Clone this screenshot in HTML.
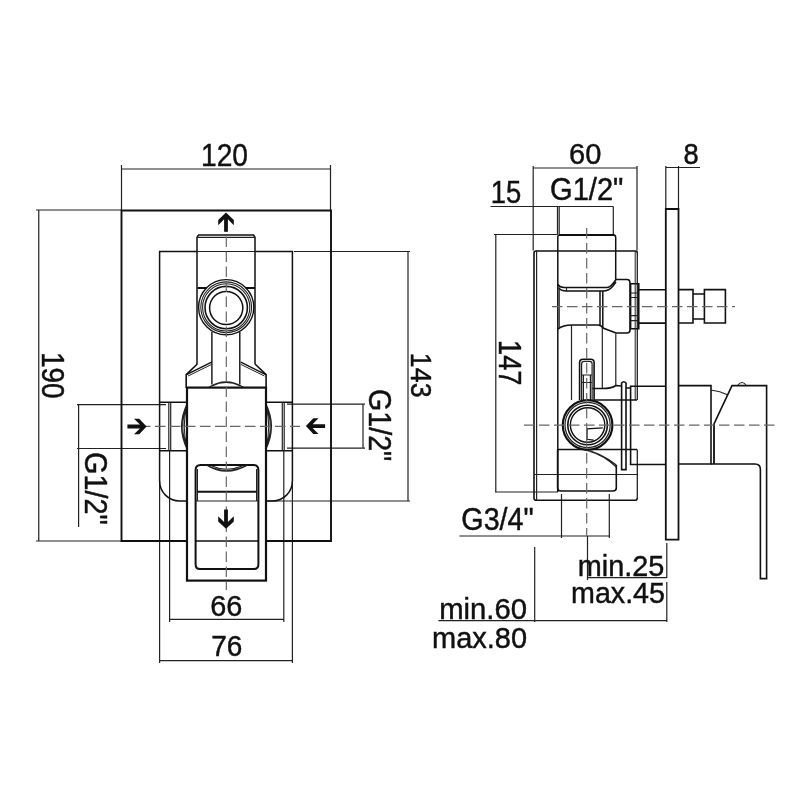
<!DOCTYPE html>
<html><head><meta charset="utf-8">
<style>
html,body{margin:0;padding:0;background:#fff;}
svg{display:block;will-change:transform;}
text{font-family:"Liberation Sans",sans-serif;fill:#111;stroke:#111;stroke-width:0.45;-webkit-font-smoothing:antialiased;}
.o{fill:none;stroke:#111;stroke-width:1.6;}
.t{fill:none;stroke:#222;stroke-width:1.2;}
.d{fill:none;stroke:#222;stroke-width:1.2;}
.c{fill:none;stroke:#666;stroke-width:1.2;stroke-dasharray:10.5 4.5;}
.ar{fill:#111;stroke:none;}
</style></head>
<body>
<svg width="800" height="800" viewBox="0 0 800 800">
<rect width="800" height="800" fill="#fff"/>

<!-- ============ LEFT DRAWING ============ -->
<!-- dimension 120 -->
<path class="d" d="M121.5 165 V210 M330.5 165 V210 M121.5 169 H330.5"/>
<!-- dimension 190 -->
<path class="d" d="M36 210 H121.5 M38.75 210 V541 M36 541 H121.5"/>
<!-- dimension 143 -->
<path class="d" d="M294 251.5 H410 M408 251.5 V501 M267 501 H410"/>
<!-- G1/2 left -->
<path class="d" d="M77 404.6 H166 M77 448.5 H166 M78.6 404.6 V527"/>
<!-- G1/2 right -->
<path class="d" d="M287 404.2 H365 M287 448.1 H365 M363 404.2 V448.1"/>
<!-- dimension 66 -->
<path class="d" d="M169.6 450 V622 M283.8 450 V622 M169.4 619.4 H284.4"/>
<!-- dimension 76 -->
<path class="d" d="M159.6 481 V663 M292.4 481 V663 M159.6 660.6 H292.4"/>

<!-- frame -->
<path class="o" d="M121.5 210.5 H331 V541 H121.5 Z" style="stroke-width:1.9"/>
<!-- inner plate -->
<path class="o" d="M159.6 251.5 H292.4 V481 A20 20 0 0 1 272.4 501 H179.6 A20 20 0 0 1 159.6 481 Z" style="stroke-width:1.5"/>

<!-- top pipe -->
<rect x="197.5" y="236" width="57.5" height="128" fill="#fff" stroke="none"/>
<path class="o" d="M197 364 V237.3 L198.6 235 H253.5 L255 237.3 V364" style="stroke-width:1.5"/><path class="t" d="M197 237.3 H255"/>
<path class="t" d="M197.5 251.5 H255"/>
<path class="o" d="M197.5 288 H207 M245.5 288 H255" style="stroke-width:2"/>
<circle cx="226.2" cy="307.2" r="27.6" class="o" fill="#fff" style="stroke-width:1.4"/>
<circle cx="226.2" cy="307.3" r="25.4" class="t" style="stroke-width:1.1"/>
<circle cx="226.2" cy="307.4" r="23.6" class="t" style="stroke-width:1.1"/>
<circle cx="226.2" cy="307.6" r="21.2" class="o" style="stroke-width:1.6"/>
<circle cx="226.2" cy="308" r="16.6" class="o" style="stroke-width:1.5"/>
<!-- neck -->
<path class="o" d="M211.9 332 V384.5 M239.8 332 V384.5" style="stroke-width:1.4"/>
<!-- shoulders -->
<path class="o" d="M197.3 364 L186.2 374.6 V388 M255 364 L266.1 374.6 V388"/>
<path class="o" d="M211.6 362.2 L186.5 374.6 M240.8 362.2 L265.8 374.6" style="stroke-width:1.4"/><path class="t" d="M211.6 364.4 L188 376 M240.8 364.4 L264.4 376" style="stroke-width:1"/>
<path class="t" d="M208.6 387.5 Q226 376 243.8 387.5 M212 386 Q226 379 240.4 386"/>

<!-- side pipes -->
<path class="o" d="M159.6 402.2 H187 M159.6 450.8 H187" style="stroke-width:1.6"/><path class="t" d="M168.8 402.2 V450.8 M170.7 402.2 V450.8"/>
<path class="t" d="M187 404 Q176 426.5 187 449 M187 405 Q178.5 426.5 187 448 M187 406 Q181.5 426.5 187 447" style="stroke-width:1.1"/>
<path class="o" d="M266 402.2 H293 M266 450.8 H293" style="stroke-width:1.6"/><path class="t" d="M284.2 402.2 V450.8 M282.3 402.2 V450.8"/>
<path class="t" d="M266 404 Q277 426.5 266 449 M266 405 Q274.5 426.5 266 448 M266 406 Q271.5 426.5 266 447" style="stroke-width:1.1"/>

<!-- handle body -->
<rect x="187" y="387.6" width="79" height="193" fill="#fff" stroke="#111" stroke-width="2.2"/>
<!-- window -->
<path class="o" d="M195.6 564.5 V470 Q195.6 465 200.6 465 H253.4 Q258.4 465 258.4 470 V564.5 Q258.4 569 253.9 569 H200.1 Q195.6 569 195.6 564.5 Z" style="stroke-width:2"/>
<path class="t" d="M197.4 501 V469 M256.6 501 V469"/>
<path class="t" d="M206.4 465 Q226 477.5 247.8 465 M209 466 Q226 475 245 466 M212 466 Q226 472.5 242 466" style="stroke-width:1.1"/>
<path class="o" d="M197.4 491.7 H256.6" style="stroke-width:2"/>
<path class="t" d="M195.6 501 H258.4"/>
<path class="o" d="M121.5 541 H187 M266 541 H330.5 M195.6 541 H258.4"/>

<!-- centerlines -->
<path class="c" d="M226.3 228 V590" style="stroke-dashoffset:6.5"/>
<path class="c" d="M140 426.4 H300"/>

<!-- arrows -->
<path class="ar" transform="translate(226,212.6)" d="M0 0 L7.8 7.4 V12.6 L1.9 6.7 V19.2 H-1.9 V6.7 L-7.8 12.6 V7.4 Z"/>
<path class="ar" transform="translate(226,528.8) rotate(180)" d="M0 0 L7.8 7.4 V12.6 L1.9 6.7 V19.2 H-1.9 V6.7 L-7.8 12.6 V7.4 Z"/>
<path class="ar" transform="translate(146.6,426.5) rotate(90)" d="M0 0 L7.8 7.4 V12.6 L1.9 6.7 V19.2 H-1.9 V6.7 L-7.8 12.6 V7.4 Z"/>
<path class="ar" transform="translate(305.9,426.1) rotate(-90)" d="M0 0 L7.8 7.4 V12.6 L1.9 6.7 V19.2 H-1.9 V6.7 L-7.8 12.6 V7.4 Z"/>

<!-- ============ RIGHT DRAWING ============ -->
<!-- dimension 60 -->
<path class="d" d="M533.2 166 V250.6 M637 166 V250.6 M533.2 168 H637"/>
<!-- dimension 8 -->
<path class="d" d="M665.8 166 V209 M678.5 166 V209 M665.8 167.5 H700"/>
<!-- 15 / G1/2 -->
<path class="d" d="M490.5 206.5 H613.3 M557.5 206.5 V234.5 M559.2 206.5 V234.5 M613.3 206.5 V234.5"/>
<!-- 147 -->
<path class="d" d="M494 234.5 H557.6 M495.8 234.5 V492 M495 492 H558"/>
<!-- G3/4 -->
<path class="d" d="M561.5 494 V538 M609.3 494 V538 M459.4 536 H609.3"/>
<!-- min25 / max45 / min60 -->
<path class="d" d="M587.5 536 V580 M587.5 577.6 H666.8 M666.8 543 V578 M666.8 582 V622 M438.4 620.7 H666.8 M534.7 547 V622"/>

<!-- box -->
<path class="o" d="M637.3 253 Q637.3 251 635.3 251 H536 Q534 251 534 253 V498 Q534 500.3 536.3 500.3 H635 Q637.3 500.3 637.3 498" style="stroke-width:1.6"/><path class="t" d="M637.3 253 V400 M637.3 449.5 V498" style="stroke-width:1.3"/>
<path class="t" d="M536.6 250.6 V500.3"/>
<path class="t" d="M534 474.5 H637"/>

<!-- top pipe -->
<path class="o" d="M557.8 492 V237 Q557.8 235 560 235 H613.5 Q615.7 235 615.7 237.5 V279.5" style="stroke-width:1.5"/>
<path class="o" d="M559 235 H614.5" style="stroke-width:2.2"/>
<!-- T branch -->
<path class="o" d="M557.8 284.5 Q560 287.5 564 287.5 H607 Q611 287.5 616 279.5 H627 Q630 279.5 630 283 V330 Q630 333 627 333 H616 L603 328 Q601 325 598 325 H572 Q563 325 557.8 329" style="stroke-width:1.6"/>
<path class="o" d="M558.5 287.5 Q561 291 566 291 H603 Q609 291 613 286 L616 282" style="stroke-width:1.5"/>
<path class="t" d="M566.5 287.5 V291 M559.2 288 V327"/><path class="o" d="M600 291 V326 M602.8 291 V328" style="stroke-width:1.5"/>
<path class="t" d="M571.5 325 V400 M602.3 328 V388.5 M615.8 333.5 V386"/>
<!-- hex nut -->
<path class="o" d="M630.6 283.75 H638.75 V328.75 H630.6 Z"/>
<path class="t" d="M630.6 293 H638.75 M630.6 297.5 H638.75 M630.6 315.6 H638.75 M630.6 320.6 H638.75"/>
<!-- stem -->
<path class="o" d="M638.75 289.75 H665.8 M638.75 323.1 H665.8 M678.5 289.6 H693 V323 H678.5 M693 294 H704.4 M693 319 H704.4 M704.4 289.6 H725.4 V323 H704.4 Z"/>
<!-- box right second line -->
<path class="t" d="M635.2 251 V400" style="stroke-width:1"/>

<!-- small tube -->
<path class="o" d="M579.6 400 V362.5 Q579.6 359.2 583 359.2 H590.7 Q594.1 359.2 594.1 362.5 V400" style="stroke-width:1.6"/>
<path class="t" d="M581.6 400 V364 Q581.6 361.4 584 361.4 H589.7 Q592.1 361.4 592.1 364 V400 M583.4 375 V400 M590.4 375 V400 M581.6 375 H592.1 M581.6 382.5 H592.1"/>
<path class="o" d="M592.4 388.6 H602.5 Q611 388.6 616 385.5 L621.3 386 M626 388 H630.6" style="stroke-width:1.5"/>
<path class="o" d="M594.5 400 H637"/>
<!-- circle -->
<circle cx="587.6" cy="425" r="24.8" class="o" fill="#fff" style="stroke-width:2.2"/>
<circle cx="587.6" cy="425" r="22.6" class="t"/>
<circle cx="587.6" cy="425" r="19.8" class="o" style="stroke-width:1.6"/>
<circle cx="587.6" cy="425" r="17.2" class="o" style="stroke-width:1.4"/>
<path class="o" d="M602.8 427.9 L587 428.8 V439.3 L593.6 440.2" style="stroke-width:1.3"/>
<!-- lower fitting -->
<path class="o" d="M557.6 449.5 H637 M557.6 449.5 V488 Q557.6 491 561 491 H613 Q616.3 491 616.3 488 V465"/>
<path class="t" d="M584 449.8 Q600 452 616.3 465 M590 451.5 Q603 455 616.3 467" style="stroke-width:1.2"/>
<!-- flange -->
<path class="o" d="M621.6 383 Q623.8 380.5 626 383 V469.6 H621.6 Z"/>
<!-- handle stem left of plate -->
<path class="o" d="M665.6 386.3 H630.6 V464.5 H665.6"/>
<!-- cover plate -->
<path class="o" d="M665.8 209 H678.5 V539.6 H665.8 Z" style="stroke-width:1.8"/>
<!-- handle -->
<path class="o" d="M678.5 385.6 H711 V464 H678.5"/>
<path class="t" d="M711 390 Q720 391 728 395 M714 424 V463"/>
<path class="o" d="M711 464 H755 Q760.4 464 760.4 469.5 V578.6 H766.6 V385.6 H732 L714 424 V464"/>
<path class="t" d="M738 385 Q742 380 746 385"/>

<!-- centerlines right -->
<path class="c" d="M586.7 228 V536"/>
<path class="c" d="M552 306.7 H735"/>
<path class="c" d="M524 425.2 H775"/>
<text id="t0" x="201.00" y="165.75" font-size="31.19" textLength="47.00" lengthAdjust="spacingAndGlyphs">120</text>
<text id="t1" transform="translate(41.95,352.00) rotate(90)" font-size="30.70" textLength="46.65" lengthAdjust="spacingAndGlyphs">190</text>
<text id="t2" transform="translate(410.60,352.80) rotate(90)" font-size="30.37" textLength="44.75" lengthAdjust="spacingAndGlyphs">143</text>
<text id="t3" transform="translate(84.78,452.00) rotate(90)" font-size="30.50" textLength="72.62" lengthAdjust="spacingAndGlyphs">G1/2&quot;</text>
<text id="t4" transform="translate(368.85,389.00) rotate(90)" font-size="30.50" textLength="72.25" lengthAdjust="spacingAndGlyphs">G1/2&quot;</text>
<text id="t5" x="210.20" y="616.30" font-size="29.79" textLength="32.15" lengthAdjust="spacingAndGlyphs">66</text>
<text id="t6" x="211.25" y="656.40" font-size="28.72" textLength="31.10" lengthAdjust="spacingAndGlyphs">76</text>
<text id="t7" x="569.00" y="164.40" font-size="29.79" textLength="32.30" lengthAdjust="spacingAndGlyphs">60</text>
<text id="t8" x="683.45" y="164.40" font-size="29.79" textLength="15.20" lengthAdjust="spacingAndGlyphs">8</text>
<text id="t9" x="490.75" y="202.50" font-size="31.02" textLength="30.50" lengthAdjust="spacingAndGlyphs">15</text>
<text id="t10" x="550.00" y="200.05" font-size="30.50" textLength="73.40" lengthAdjust="spacingAndGlyphs">G1/2&quot;</text>
<text id="t11" transform="translate(498.80,340.10) rotate(90)" font-size="30.58" textLength="45.30" lengthAdjust="spacingAndGlyphs">147</text>
<text id="t12" x="461.35" y="529.95" font-size="30.50" textLength="72.35" lengthAdjust="spacingAndGlyphs">G3/4&quot;</text>
<text id="t13" x="577.85" y="575.90" font-size="30.00" textLength="86.50" lengthAdjust="spacingAndGlyphs">min.25</text>
<text id="t14" x="571.00" y="603.40" font-size="30.00" textLength="94.00" lengthAdjust="spacingAndGlyphs">max.45</text>
<text id="t15" x="439.15" y="618.80" font-size="30.00" textLength="87.85" lengthAdjust="spacingAndGlyphs">min.60</text>
<text id="t16" x="432.00" y="648.10" font-size="30.00" textLength="95.00" lengthAdjust="spacingAndGlyphs">max.80</text>
</svg>
</body></html>
